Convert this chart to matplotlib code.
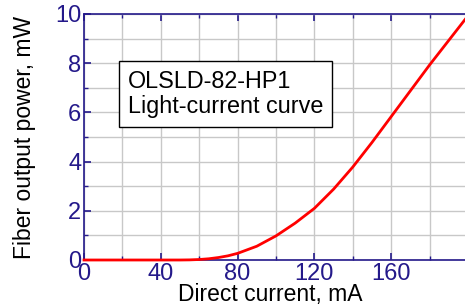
import matplotlib
matplotlib.use("Agg")
import matplotlib.pyplot as plt
from matplotlib.ticker import MultipleLocator, FixedLocator

plt.rcParams["font.family"] = ["Liberation Sans", "DejaVu Sans"]

# light-current data
current_mA = [0, 20, 40, 50, 55, 60, 65, 70, 75, 80, 90, 100, 110, 120,
              130, 140, 150, 160, 170, 180, 190, 200]
power_mW = [0, 0, 0, 0, 0.005, 0.02, 0.05, 0.1, 0.17, 0.27, 0.56, 0.98, 1.5,
            2.1, 2.88, 3.78, 4.78, 5.83, 6.88, 7.93, 8.93, 9.93]

x_labeled = [0, 40, 80, 120, 160]
title_lines = ["OLSLD-82-HP1", "Light-current curve"]
navy = "#24198a"

fig = plt.figure(figsize=(4.65, 3.07), dpi=100)
ax = fig.add_axes([84 / 465, 47 / 307, 384 / 465, 246 / 307])

ax.plot(current_mA, power_mW, color="#ff0000", lw=2.0, zorder=5, clip_on=False)

ax.set_xlim(0, 200)
ax.set_ylim(0, 10)
ax.xaxis.set_major_locator(FixedLocator(x_labeled))
ax.xaxis.set_minor_locator(MultipleLocator(20))
ax.yaxis.set_major_locator(MultipleLocator(2))
ax.yaxis.set_minor_locator(MultipleLocator(1))

ax.grid(True, which="both", color="#c8c8c8", lw=1.0)
ax.set_axisbelow(True)

for s in ax.spines.values():
    s.set_color(navy)
    s.set_linewidth(1.2)

ax.tick_params(which="both", direction="in", colors=navy, top=True,
               labelsize=17, pad=2)
ax.tick_params(which="major", length=5, width=1.2)
ax.tick_params(which="minor", length=3, width=1.0)

ax.set_xlabel("Direct current, mA", fontsize=16.5, labelpad=-1)
ax.xaxis.set_label_coords(0.484, -0.095)
ax.set_ylabel("Fiber output power, mW", fontsize=16.5, labelpad=14)

ax.text(0.1146, 0.675, "\n".join(title_lines), transform=ax.transAxes,
        fontsize=16.8, va="center", ha="left", linespacing=1.1,
        bbox=dict(boxstyle="square,pad=0.38", fc="white", ec="black", lw=1.0),
        zorder=6)

fig.savefig("out.png", dpi=100)
